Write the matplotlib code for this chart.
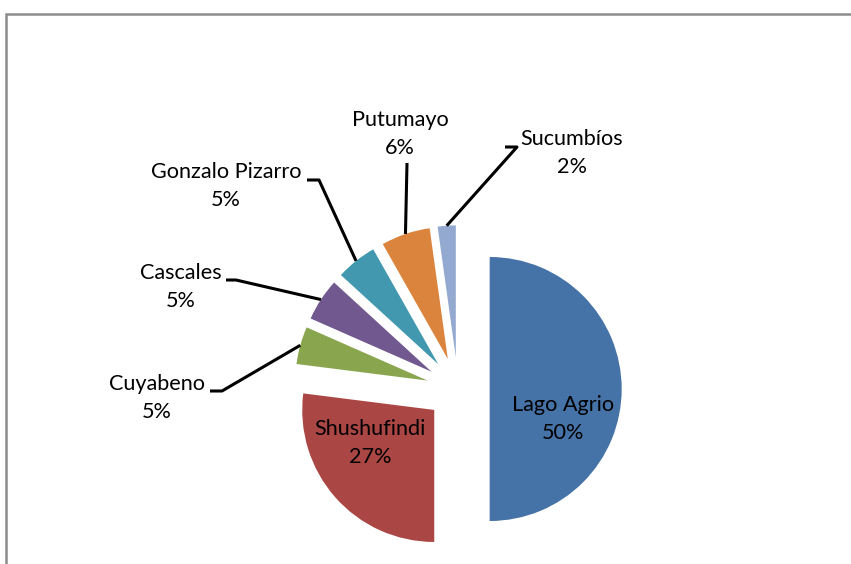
import matplotlib
matplotlib.use("Agg")
import matplotlib.pyplot as plt
import numpy as np
from matplotlib.patches import Rectangle

# ---- data ----
categories = ["Lago Agrio", "Shushufindi", "Cuyabeno", "Cascales",
              "Gonzalo Pizarro", "Putumayo", "Sucumbíos"]
values = [50.0, 27.0, 4.6, 5.2, 5.0, 6.0, 2.2]
colors = ["#4572A7", "#AA4643", "#89A54E", "#71588F", "#4198AF", "#DB843D", "#93A9CF"]

W, H = 851, 564
CX, CY, R = 458, 389, 132   # pie centre / radius in pixels (layout)
EXPLODE = 0.24

def px(x, y):
    return (x - CX) / R, (CY - y) / R

plt.rcParams['font.family'] = ['Lato', 'DejaVu Sans']
fig = plt.figure(figsize=(W / 100, H / 100), dpi=100)
ax = fig.add_axes([0, 0, 1, 1])

wedges, _ = ax.pie(values, colors=colors, startangle=90, counterclock=False,
                   explode=[EXPLODE] * len(values), radius=1.0,
                   wedgeprops=dict(linewidth=0))
x0, _ = px(0, 0); x1, _ = px(W, 0)
_, y0 = px(0, H); _, y1 = px(0, 0)
ax.set_xlim(x0, x1); ax.set_ylim(y0, y1)
ax.set_aspect('auto')
ax.axis('off')

total = sum(values)
pct = [f"{v / total * 100:.0f}%" for v in values]

FS = 15.6
LS = 1.5
# inside labels (text centre positions, pixels)
inside = {0: (563, 419), 1: (370, 443)}
for i, (tx, ty) in inside.items():
    X, Y = px(tx, ty)
    ax.text(X, Y, f"{categories[i]}\n{pct[i]}", ha='center', va='center',
            fontsize=FS, linespacing=LS, color='black')

# outside labels: text centre, elbow start, elbow end (pixels)
outside = {
    2: ((157, 398), (210, 391), (222, 391)),
    3: ((181, 287), (226, 280), (236, 280)),
    4: ((226, 186), (307, 180), (319, 180)),
    5: ((400, 134), None, (407, 163)),
    6: ((572, 153), (505, 147), (517, 147)),
}
for i, (tpos, ea, eb) in outside.items():
    w = wedges[i]
    mid = np.deg2rad((w.theta1 + w.theta2) / 2)
    ex = (1 + EXPLODE) * np.cos(mid)
    ey = (1 + EXPLODE) * np.sin(mid)
    pts = []
    if ea is not None:
        pts.append(px(*ea))
    pts.append(px(*eb))
    pts.append((ex, ey))
    xs, ys = zip(*pts)
    ax.plot(xs, ys, color='black', lw=2.2, solid_capstyle='butt')
    X, Y = px(*tpos)
    ax.text(X, Y, f"{categories[i]}\n{pct[i]}", ha='center', va='center',
            fontsize=FS, linespacing=LS, color='black')

# outer chart frame
fig.patches.append(Rectangle((5.5 / W, -0.1), 1.2, (H - 13.5) / H + 0.1,
                             transform=fig.transFigure, fill=False,
                             edgecolor='#8c8c8c', linewidth=1.8))

fig.savefig("out.png", dpi=100, facecolor='white')
